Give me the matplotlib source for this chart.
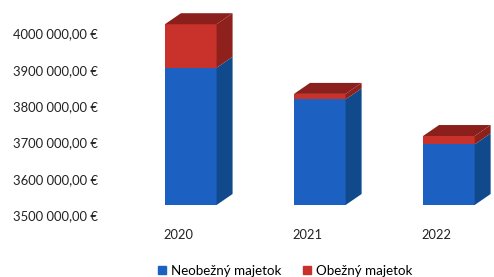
import matplotlib.pyplot as plt
from matplotlib.patches import Polygon
from matplotlib.transforms import ScaledTranslation

years = ["2020", "2021", "2022"]
neobezny = [3878000, 3791000, 3667000]
obezny = [120000, 15000, 23000]
base = 3500000
yticks = [3500000, 3600000, 3700000, 3800000, 3900000, 4000000]
ytick_labels = ["3500 000,00 €", "3600 000,00 €", "3700 000,00 €",
                "3800 000,00 €", "3900 000,00 €", "4000 000,00 €"]

plt.rcParams['font.family'] = ['Lato', 'DejaVu Sans']

W, H, DPI = 494, 277, 100
fig = plt.figure(figsize=(W / DPI, H / DPI), dpi=DPI)
ax = fig.add_axes([132.7 / W, 72 / H, (W - 132.7) / W, (H - 72) / H])
ax.set_xlim(-0.45, 2.35)
ax.set_ylim(base, base + 564700)

width = 0.40
dx = 0.124      # depth offset in x units
dy = 30300      # depth offset in y units

blue, blue_side = '#1c60c2', '#114a8c'
red, red_side, red_top = '#c8322b', '#8f211d', '#8a1f1b'


def box(x, y0, y1, front, side, top=None):
    ax.bar(x, y1 - y0, bottom=y0, width=width, color=front, zorder=2)
    xr = x + width / 2
    ax.add_patch(Polygon([(xr, y0), (xr + dx, y0 + dy), (xr + dx, y1 + dy), (xr, y1)],
                         closed=True, facecolor=side, edgecolor='none', zorder=2,
                         clip_on=False))
    if top is not None:
        xl = x - width / 2
        ax.add_patch(Polygon([(xl, y1), (xl + dx, y1 + dy), (xr + dx, y1 + dy), (xr, y1)],
                             closed=True, facecolor=top, edgecolor='none', zorder=2,
                             clip_on=False))


for i in range(len(years)):
    b = neobezny[i]
    t = b + obezny[i]
    box(i, base, b, blue, blue_side)
    box(i, b, t, red, red_side, red_top)

ax.set_yticks(yticks)
ax.set_yticklabels(ytick_labels, fontsize=9.4, color='#222222')
ax.set_xticks(range(len(years)))
ax.set_xticklabels(years, fontsize=9.3, color='#222222')
ax.tick_params(axis='y', length=0, pad=25)
ax.tick_params(axis='x', length=0, pad=17)
for lab in ax.get_yticklabels():
    lab.set_transform(lab.get_transform() + ScaledTranslation(0, -10 / DPI, fig.dpi_scale_trans))
for lab in ax.get_xticklabels():
    lab.set_transform(lab.get_transform() + ScaledTranslation(-12 / DPI, 0, fig.dpi_scale_trans))

for s in ax.spines.values():
    s.set_visible(False)

handles = [plt.Rectangle((0, 0), 1, 1, color=blue), plt.Rectangle((0, 0), 1, 1, color=red)]
fig.legend(handles, ["Neobežný majetok", "Obežný majetok"], loc='center',
           bbox_to_anchor=(0.577, 0.023), ncol=2, frameon=False, fontsize=9.6,
           handlelength=0.6, handleheight=0.6, handletextpad=0.4, columnspacing=1.6)

fig.savefig('out.png', dpi=DPI)
